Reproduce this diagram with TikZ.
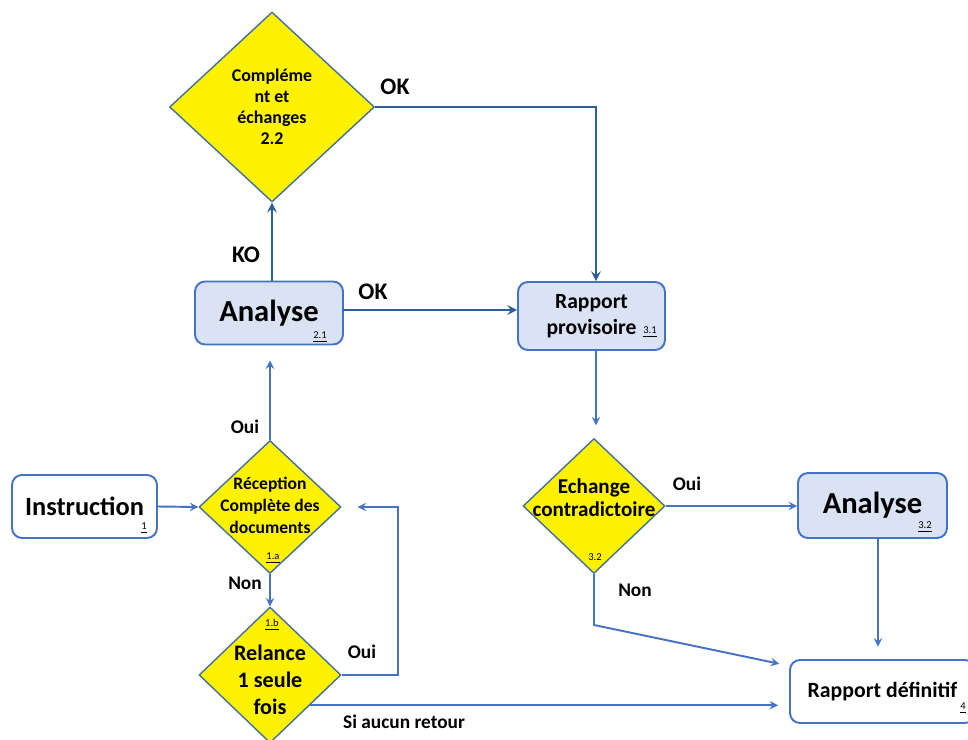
\documentclass[tikz,border=0pt]{standalone}
\usepackage{fontspec}
\setmainfont{Carlito}
\usetikzlibrary{shapes.geometric,calc}
\definecolor{diaborder}{HTML}{41719C}
\definecolor{boxborder}{HTML}{4472C4}
\definecolor{boxfill}{HTML}{DAE3F3}
\definecolor{flowblue}{HTML}{4472C4}
\definecolor{flowdark}{HTML}{2E5D9A}
\begin{document}
\begin{tikzpicture}[x=.02cm,y=-.02cm,>=stealth,
  dia/.style={diamond,draw=diaborder,fill=yellow,line width=.8pt,inner sep=0pt},
  box/.style={draw=boxborder,rounded corners=.2cm,line width=1.1pt,inner sep=0pt,align=center},
  bluebox/.style={box,fill=boxfill},
  flow/.style={draw=flowblue,line width=1.1pt},
  flowtop/.style={draw=flowdark,line width=1.4pt},
  lab/.style={font=\bfseries\fontsize{11}{13}\selectfont,inner sep=0pt},
  biglab/.style={font=\bfseries\fontsize{13.5}{16}\selectfont,inner sep=0pt},
  num/.style={font=\fontsize{6}{7}\selectfont,inner sep=0pt}]
  \useasboundingbox (0,0) rectangle (968,740);
  % diamonds
  \node[dia,minimum width=4.1cm,minimum height=3.8cm] (comp) at (272,107) {};
  \node[dia,minimum width=2.84cm,minimum height=2.66cm] (recep) at (270,507) {};
  \node[dia,minimum width=2.84cm,minimum height=2.72cm] (relance) at (270,675) {};
  \node[dia,minimum width=2.84cm,minimum height=2.7cm] (echange) at (594,506) {};
  \node[align=center,font=\bfseries\fontsize{10.2}{12}\selectfont] (comptxt) at (272,107) {Compléme\\nt et\\échanges\\2.2};
  \node[align=center,font=\bfseries\fontsize{10}{12.5}\selectfont] (receptxt) at (270,505) {Réception\\Complète des\\documents};
  \node[align=center,font=\bfseries\fontsize{12.6}{15.3}\selectfont] (relancetxt) at (270,680) {Relance\\1 seule\\fois};
  \node[align=center,font=\bfseries\fontsize{12}{13}\selectfont] (echangetxt) at (594,498) {Echange\\contradictoire};
  % boxes
  \node[bluebox,minimum width=2.96cm,minimum height=1.26cm,font=\bfseries\fontsize{17.4}{20}\selectfont] (analyse1) at (269,313) {Analyse};
  \node[bluebox,minimum width=2.94cm,minimum height=1.36cm,font=\bfseries\fontsize{12.3}{15}\selectfont] (rapprov) at (591.5,316) {Rapport\\provisoire};
  \node[box,fill=white,minimum width=2.9cm,minimum height=1.26cm,font=\bfseries\fontsize{15}{18}\selectfont] (instr) at (84.5,506.5) {Instruction};
  \node[bluebox,minimum width=2.98cm,minimum height=1.3cm,font=\bfseries\fontsize{17.4}{20}\selectfont] (analyse2) at (872.5,505.5) {Analyse};
  \node[box,fill=white,minimum width=3.7cm,minimum height=1.26cm,font=\bfseries\fontsize{12.4}{15}\selectfont] (rapdef) at (882.5,691.5) {Rapport définitif};
  % numbers
  \node[num] (n21) at (320,337) {\underline{2.1}};
  \node[num] (n31) at (650,332) {\underline{3.1}};
  \node[num] (n1) at (144,528) {\underline{1}};
  \node[num] (n1a) at (273,558) {\underline{1.a}};
  \node[num] (n1b) at (272,625) {\underline{1.b}};
  \node[num] (n32a) at (595,557) {3.2};
  \node[num] (n32b) at (925,527) {\underline{3.2}};
  \node[num] (n4) at (963,708) {\underline{4}};
  % connectors
  \coordinate (okcorner) at (596,107);
  \draw[flowtop,->] (comp.east) -- (okcorner) -- (okcorner |- rapprov.north);
  \draw[flowtop,->] (analyse1.north -| comp.south) -- (comp.south);
  \coordinate (okout) at (343,310);
  \draw[flowtop,->] (okout) -- (okout -| rapprov.west);
  \coordinate (provfoot) at (596,350);
  \draw[flow,->,shorten >=.25cm] (provfoot) -- (provfoot |- echange.north);
  \draw[flow,->] (echange.east) -- (echange.east -| analyse2.west);
  \coordinate (a2foot) at (878,538);
  \draw[flow,->,shorten >=.25cm] (a2foot) -- (a2foot |- rapdef.north);
  \coordinate (noncorner) at (594,625);
  \coordinate (nonend) at (790,666);
  \draw[flow,->,shorten >=.22cm] (echange.south) -- (noncorner) -- (nonend);
  \coordinate (relout) at ($(relance.east)!.44!(relance.south)$);
  \draw[flow,->,shorten >=.22cm] (relout) -- (relout -| rapdef.west);
  \draw[flow,->] (instr.east) -- (recep.west);
  \draw[flow,->,shorten >=.3cm] (recep.north) -- (recep.north |- analyse1.south);
  \draw[flow,->] (recep.south) -- (relance.north);
  \coordinate (ouiloop) at (398,675);
  \draw[flow,->,shorten >=.32cm] (relance.east) -- (ouiloop) -- (ouiloop |- recep.east) -- (recep.east);
  % labels
  \node[biglab] (okhaut) at (395,87) {OK};
  \node[biglab] (ko) at (246,255) {KO};
  \node[biglab] (okmilieu) at (373,292) {OK};
  \node[lab] (ouirecep) at (245,427) {Oui};
  \node[lab] (nonrecep) at (245,583) {Non};
  \node[lab] (ouirelance) at (362,652) {Oui};
  \node[lab] (sansretour) at (404,722) {Si aucun retour};
  \node[lab] (ouiechange) at (687,484) {Oui};
  \node[lab] (nonechange) at (635,590) {Non};
\end{tikzpicture}
\end{document}
